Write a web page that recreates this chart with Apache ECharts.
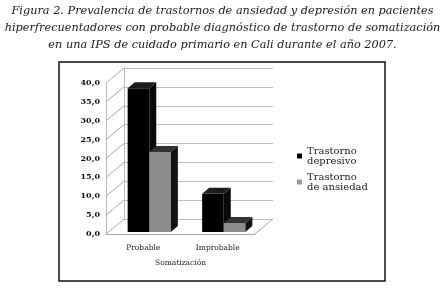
<!DOCTYPE html>
<html>
<head>
<meta charset="utf-8">
<script src="https://cdn.jsdelivr.net/npm/echarts@6/dist/echarts.min.js"></script>
<style>
  html, body { margin: 0; padding: 0; background: #fff; }
  #chart { width: 445px; height: 291px; }
</style>
</head>
<body>
<div id="chart"></div>
<script>
const categories = ['Probable', 'Improbable']
const depresivo = [38.1, 10.1]
const ansiedad = [21.2, 2.4]
const yTicks = [0, 5, 10, 15, 20, 25, 30, 35, 40]
const seriesNames = ['Trastorno\ndepresivo', 'Trastorno\nde ansiedad']

// pseudo 3d: wall depth, bar set-back and bar depth (px)
const DEPTH = [18, -15]
const SETBACK = [6, -2]
const BAR_DEPTH = [7, -6]
const FRONT = { left: 106, top: 83, width: 149, height: 151 }

const serif = 'DejaVu Serif'

const faces = [
  { front: '#000000', top: '#1c1c1c', side: '#0a0a0a' },
  { front: '#8c8c8c', top: '#333333', side: '#111111' },
]

function barRender(seriesIdx) {
  return (params, api) => {
    const cat = api.value(0)
    const val = api.value(1)
    const base = api.coord([cat, 0])
    const top = api.coord([cat, val])
    const band = api.size([1, 0])[0]
    const w = band * 0.29
    const x = base[0] - w + seriesIdx * w + SETBACK[0]
    const y = top[1] + SETBACK[1]
    const h = base[1] - top[1]
    const [dx, dy] = BAR_DEPTH
    const f = faces[seriesIdx]
    return {
      type: 'group',
      children: [
        { type: 'rect', shape: { x, y, width: w, height: h }, style: { fill: f.front } },
        {
          type: 'polygon',
          shape: { points: [[x, y], [x + w, y], [x + w + dx, y + dy], [x + dx, y + dy]] },
          style: { fill: f.top },
        },
        {
          type: 'polygon',
          shape: { points: [[x + w, y], [x + w + dx, y + dy], [x + w + dx, y + h + dy], [x + w, y + h]] },
          style: { fill: f.side },
        },
      ],
    }
  }
}

const chart = echarts.init(document.getElementById('chart'))

const axisBase = { min: 0, max: 40, interval: 5 }

chart.setOption({
  animation: false,
  title: {
    text: 'Figura 2. Prevalencia de trastornos de ansiedad y depresión en pacientes\nhiperfrecuentadores con probable diagnóstico de trastorno de somatización\nen una IPS de cuidado primario en Cali durante el año 2007.',
    left: 217.5,
    top: -2,
    textAlign: 'center',
    textStyle: {
      fontFamily: serif,
      fontStyle: 'italic',
      fontWeight: 'normal',
      fontSize: 11.3,
      lineHeight: 17,
      color: '#1a1a1a',
    },
  },
  legend: {
    orient: 'vertical',
    left: 292,
    top: 141,
    icon: 'rect',
    itemWidth: 5,
    itemHeight: 5,
    itemGap: 6,
    data: seriesNames,
    textStyle: { fontFamily: serif, fontSize: 10, lineHeight: 10, color: '#222' },
  },
  graphic: [
    {
      type: 'rect',
      shape: { x: 59, y: 62, width: 326, height: 219 },
      style: { fill: 'none', stroke: '#111', lineWidth: 1.5 },
      z: 100,
    },
  ],
  grid: [
    { ...FRONT },
    { left: FRONT.left + DEPTH[0], top: FRONT.top + DEPTH[1], width: FRONT.width, height: FRONT.height },
  ],
  xAxis: [
    {
      type: 'category',
      gridIndex: 0,
      data: categories,
      axisLine: { lineStyle: { color: '#a8a8a8' } },
      axisTick: { show: false },
      axisLabel: { fontFamily: serif, fontSize: 7.5, color: '#222', margin: 10 },
      name: 'Somatización',
      nameLocation: 'middle',
      nameGap: 25,
      nameTextStyle: { fontFamily: serif, fontSize: 7.5, color: '#222' },
    },
    {
      type: 'category',
      gridIndex: 1,
      data: categories,
      show: false,
    },
  ],
  yAxis: [
    {
      type: 'value',
      gridIndex: 0,
      ...axisBase,
      axisLine: { show: true, lineStyle: { color: '#b8b8b8' } },
      axisTick: { show: false },
      splitLine: { show: false },
      axisLabel: {
        fontFamily: serif,
        fontWeight: 'bold',
        fontSize: 8,
        color: '#111',
        margin: 6,
        formatter: (v) => v.toFixed(1).replace('.', ','),
      },
    },
    {
      type: 'value',
      gridIndex: 1,
      ...axisBase,
      axisLine: { show: true, lineStyle: { color: '#b8b8b8' } },
      axisTick: { show: false },
      axisLabel: { show: false },
      splitLine: { lineStyle: { color: '#bcbcbc' } },
    },
  ],
  series: [
    {
      type: 'custom',
      xAxisIndex: 0,
      yAxisIndex: 0,
      silent: true,
      data: yTicks.map((v) => [0, v]),
      renderItem: (params, api) => {
        const cs = params.coordSys
        const y = api.coord([0, api.value(1)])[1]
        const lines = [
          { type: 'line', shape: { x1: cs.x, y1: y, x2: cs.x + DEPTH[0], y2: y + DEPTH[1] }, style: { stroke: '#a8a8a8', lineWidth: 1 } },
        ]
        if (api.value(1) === 0) {
          const xr = cs.x + cs.width
          lines.push({ type: 'line', shape: { x1: xr, y1: y, x2: xr + DEPTH[0], y2: y + DEPTH[1] }, style: { stroke: '#a8a8a8', lineWidth: 1 } })
        }
        return { type: 'group', children: lines }
      },
    },
    {
      name: seriesNames[0],
      type: 'custom',
      xAxisIndex: 0,
      yAxisIndex: 0,
      itemStyle: { color: '#000' },
      data: categories.map((c, i) => [i, depresivo[i]]),
      renderItem: barRender(0),
    },
    {
      name: seriesNames[1],
      type: 'custom',
      xAxisIndex: 0,
      yAxisIndex: 0,
      itemStyle: { color: '#999' },
      data: categories.map((c, i) => [i, ansiedad[i]]),
      renderItem: barRender(1),
    },
  ],
})
</script>
</body>
</html>
